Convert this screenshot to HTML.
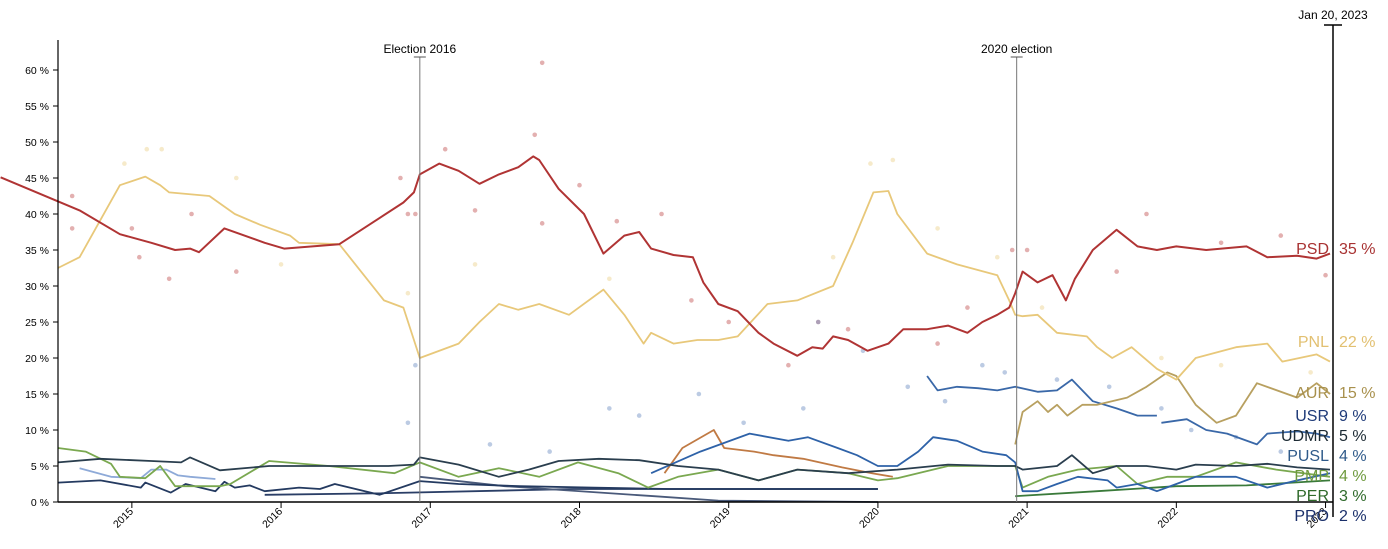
<!DOCTYPE html>
<html><head><meta charset="utf-8"><style>
body{margin:0;background:#fff;font-family:"Liberation Sans",sans-serif}
svg text{font-family:"Liberation Sans",sans-serif}
</style></head><body>
<svg id="c" width="1388" height="544"></svg>
<script>
const yTicks=[0,5,10,15,20,25,30,35,40,45,50,55,60];
const yearTicks=[2015,2016,2017,2018,2019,2020,2021,2022,2023];
const events=[{d:2016.93,label:"Election 2016"},{d:2020.93,label:"2020 election"}];
const psd=[[2014.12,45.1],[2014.65,40.5],[2014.92,37.2],[2015.13,36],[2015.29,35],[2015.39,35.2],[2015.45,34.7],[2015.62,38],[2015.89,36],[2016.02,35.2],[2016.39,35.8],[2016.59,38.5],[2016.82,41.6],[2016.89,43],[2016.93,45.5],[2017.06,47],[2017.19,46],[2017.33,44.2],[2017.46,45.5],[2017.59,46.5],[2017.69,48],[2017.73,47.5],[2017.86,43.5],[2018.03,40],[2018.16,34.5],[2018.30,37],[2018.40,37.5],[2018.48,35.2],[2018.63,34.3],[2018.76,34],[2018.83,30.5],[2018.93,27.5],[2019.06,26.5],[2019.20,23.5],[2019.30,22],[2019.46,20.3],[2019.56,21.5],[2019.63,21.3],[2019.70,23],[2019.80,22.5],[2019.93,21],[2020.07,22],[2020.17,24],[2020.33,24],[2020.47,24.5],[2020.60,23.5],[2020.70,25],[2020.80,26],[2020.88,27],[2020.92,29],[2020.97,32],[2021.07,30.5],[2021.17,31.5],[2021.26,28],[2021.32,31],[2021.44,35],[2021.60,37.8],[2021.74,35.5],[2021.87,35],[2022.00,35.5],[2022.20,35],[2022.47,35.5],[2022.61,34],[2022.81,34.2],[2022.94,33.8],[2023.03,34.5]];
const pnl=[[2014.505,32.5],[2014.65,34],[2014.92,44],[2015.09,45.2],[2015.19,44],[2015.25,43],[2015.52,42.5],[2015.69,40],[2015.86,38.5],[2016.06,37],[2016.12,36],[2016.39,35.8],[2016.69,28],[2016.82,27],[2016.93,20],[2017.19,22],[2017.33,25],[2017.46,27.5],[2017.59,26.7],[2017.73,27.5],[2017.93,26],[2018.16,29.5],[2018.30,26],[2018.43,22],[2018.48,23.5],[2018.63,22],[2018.79,22.5],[2018.93,22.5],[2019.06,23],[2019.26,27.5],[2019.46,28],[2019.70,30],[2019.83,36],[2019.97,43],[2020.07,43.2],[2020.13,40],[2020.33,34.5],[2020.53,33],[2020.80,31.5],[2020.88,28],[2020.92,26],[2020.97,25.8],[2021.07,26],[2021.20,23.5],[2021.40,23],[2021.47,21.5],[2021.57,20],[2021.70,21.5],[2021.87,18.5],[2022.00,17],[2022.13,20],[2022.40,21.5],[2022.61,22],[2022.71,19.5],[2022.94,20.5],[2023.03,19.5]];
const aur=[[2020.92,8],[2020.97,12.5],[2021.07,14],[2021.14,12.5],[2021.20,13.5],[2021.27,12],[2021.37,13.5],[2021.47,13.5],[2021.67,14.5],[2021.80,16],[2021.94,18],[2022.00,17.5],[2022.13,13.5],[2022.27,11],[2022.40,12],[2022.54,16.5],[2022.81,14.5],[2022.94,16.5],[2023.03,15]];
const usr=[[2020.33,17.5],[2020.40,15.5],[2020.53,16],[2020.67,15.8],[2020.80,15.5],[2020.92,16],[2021.07,15.3],[2021.20,15.5],[2021.30,17],[2021.44,14],[2021.60,13],[2021.74,12],[2021.87,12],[null,null],[2021.90,11],[2022.07,11.5],[2022.20,10],[2022.34,9.5],[2022.54,8],[2022.61,9.5],[2022.81,9.8],[2022.94,9.5],[2023.03,9]];
const pusl=[[2018.57,4],[2018.69,7.5],[2018.90,10],[2018.97,7.5],[2019.17,7],[2019.30,6.5],[2019.50,6],[2019.76,4.8],[2019.96,4],[2020.10,3.5]];
const blueLine=[[2018.48,4],[2018.81,7],[2019.14,9.5],[2019.40,8.5],[2019.53,9],[2019.73,7.5],[2019.86,6.5],[2020.00,5],[2020.13,5],[2020.27,7],[2020.37,9],[2020.53,8.5],[2020.70,7],[2020.86,6.5],[2020.92,5.5],[2020.97,1.5],[2021.07,1.5],[2021.20,2.5],[2021.34,3.5],[2021.54,3],[2021.60,2],[2021.74,2.5],[2021.87,1.5],[2022.00,2.5],[2022.13,3.5],[2022.40,3.5],[2022.61,2],[2022.81,3],[2023.03,4]];
const udmr=[[2014.505,5.5],[2014.79,6],[2015.13,5.7],[2015.33,5.5],[2015.39,6.2],[2015.59,4.4],[2015.92,5],[2016.19,5],[2016.46,5],[2016.72,5],[2016.89,5.2],[2016.93,6.2],[2017.19,5.2],[2017.46,3.5],[2017.66,4.5],[2017.86,5.7],[2018.13,6],[2018.40,5.8],[2018.66,5],[2018.93,4.5],[2019.20,3],[2019.46,4.5],[2019.80,4],[2020.13,4.5],[2020.47,5.2],[2020.80,5],[2020.92,5],[2020.97,4.5],[2021.20,5],[2021.30,6.5],[2021.44,4],[2021.60,5],[2021.80,5],[2022.00,4.5],[2022.13,5.2],[2022.40,5],[2022.61,5.3],[2022.81,4.8],[2023.03,4.5]];
const pmp=[[2014.505,7.5],[2014.69,7],[2014.86,5.3],[2014.92,3.5],[2015.09,3.3],[2015.19,5],[2015.29,2.2],[2015.59,2.2],[2015.66,2.5],[2015.92,5.7],[2016.32,5],[2016.76,4],[2016.93,5.5],[2017.19,3.5],[2017.46,4.7],[2017.73,3.5],[2017.99,5.5],[2018.26,4],[2018.46,2],[2018.66,3.5],[2018.93,4.5],[2019.20,3],[2019.46,4.5],[2019.80,4],[2020.00,3],[2020.13,3.3],[2020.47,5],[2020.80,5],[2020.92,5],[2020.97,2],[2021.14,3.5],[2021.34,4.5],[2021.60,5],[2021.74,2.5],[2021.94,3.5],[2022.13,3.5],[2022.40,5.5],[2022.67,4.5],[2023.03,3.5]];
const per=[[2020.92,0.8],[2021.47,1.5],[2022.00,2.2],[2022.47,2.3],[2023.03,3]];
const pro=[[2014.505,2.7],[2014.79,3],[2015.06,2],[2015.09,2.7],[2015.26,1.3],[2015.36,2.5],[2015.56,1.5],[2015.62,2.8],[2015.69,2],[2015.79,2.3],[2015.89,1.5],[2016.12,2],[2016.26,1.8],[2016.36,2.5],[2016.66,1],[2016.93,2.9],[2017.19,2.5],[2017.60,2.2],[2018.10,2],[2018.60,1.8],[2019.10,1.8],[2020.00,1.8]];
const proLow=[[2015.89,1],[2016.62,1.2],[2017.96,1.8],[2020.00,1.8]];
const proDecline=[[2016.93,3.5],[2017.50,2.2],[2018.50,0.8],[2018.93,0.2],[2020.00,0]];
const lightBlue=[[2014.65,4.7],[2014.86,3.5],[2015.06,3.3],[2015.13,4.5],[2015.23,4.5],[2015.31,3.7],[2015.39,3.5],[2015.56,3.2]];
const psdDots=[[2014.60,42.5],[2014.60,38],[2015.00,38],[2015.05,34],[2015.25,31],[2015.40,40],[2015.70,32],[2016.80,45],[2016.85,40],[2016.90,40],[2017.10,49],[2017.30,40.5],[2017.70,51],[2017.75,61],[2017.75,38.7],[2018.00,44],[2018.25,39],[2018.55,40],[2018.75,28],[2019.00,25],[2019.40,19],[2019.60,25],[2019.80,24],[2020.40,22],[2020.60,27],[2020.90,35],[2021.00,35],[2021.60,32],[2021.80,40],[2022.30,36],[2022.70,37],[2023.00,31.5]];
const pnlDots=[[2014.95,47],[2015.10,49],[2015.20,49],[2015.70,45],[2016.00,33],[2016.85,29],[2017.30,33],[2018.20,31],[2019.70,34],[2019.95,47],[2020.10,47.5],[2020.40,38],[2020.80,34],[2021.10,27],[2021.90,20],[2022.30,19],[2022.90,18]];
const usrDots=[[2016.85,11],[2016.90,19],[2017.40,8],[2017.80,7],[2018.20,13],[2018.40,12],[2018.80,15],[2019.10,11],[2019.50,13],[2019.60,25],[2019.90,21],[2020.20,16],[2020.45,14],[2020.70,19],[2020.85,18],[2021.20,17],[2021.55,16],[2021.90,13],[2022.10,10],[2022.40,9],[2022.70,7]];
const labels=[{n:"PSD",v:"35 %",y:248,c:"#a83232"},{n:"PNL",v:"22 %",y:341,c:"#e2c071"},{n:"AUR",v:"15 %",y:392,c:"#a8904c"},{n:"USR",v:"9 %",y:415,c:"#1e3a78"},{n:"UDMR",v:"5 %",y:435,c:"#1c2a33"},{n:"PUSL",v:"4 %",y:455,c:"#2f5a8a"},{n:"PMP",v:"4 %",y:475,c:"#6e9a3e"},{n:"PER",v:"3 %",y:495,c:"#2f6a2a"},{n:"PRO",v:"2 %",y:515,c:"#1a2f6a"}];

const svg=document.getElementById('c');const NS="http://www.w3.org/2000/svg";
const X0=58,X1=1333,D0=2014.505,D1=2023.05,Y0=502,PPU=7.2;
const xs=d=>X0+(d-D0)/(D1-D0)*(X1-X0);const ys=v=>Y0-v*PPU;
function el(t,a,p){const e=document.createElementNS(NS,t);for(const k in a)e.setAttribute(k,a[k]);(p||svg).appendChild(e);return e;}
function dots(arr,col,name){arr.forEach(p=>{const c=el('circle',{cx:xs(p[0]),cy:ys(p[1]),r:2.3,fill:col,opacity:0.45});

});}
dots(psdDots,'#c05050','psd-poll-dot');dots(pnlDots,'#ecd08a','pnl-poll-dot');dots(usrDots,'#6a8cc0','usr-poll-dot');
function line(arr,col,name,w){let d='',m=true;arr.forEach(p=>{if(p[0]===null){m=true;return;}d+=(m?'M':'L')+xs(p[0]).toFixed(1)+','+ys(p[1]).toFixed(1);m=false;});
const e=el('path',{d:d,fill:'none',stroke:col,'stroke-width':w||2,'stroke-linejoin':'round'});

}
line(lightBlue,'#8eaad8','light-blue-line',1.8);
line(proLow,'#2a3e66','pro-low-line',1.8);line(proDecline,'#4a5a7a','pro-decline-line',1.8);
line(pro,'#243a60','pro-line',1.8);
line(pusl,'#c07a44','pusl-orange-line',1.8);
line(per,'#3a7a3a','per-line',1.8);
line(pmp,'#7aa850','pmp-line',1.8);
line(blueLine,'#2e62a8','pusl-line',1.8);
line(udmr,'#2a3e4e','udmr-line',1.8);
line(usr,'#3a68a8','usr-line',1.8);
line(aur,'#b8a060','aur-line',1.8);
line(pnl,'#e8c87a','pnl-line',1.8);
line(psd,'#b03434','psd-line',2);
// axes
let a=el('line',{x1:X0,y1:40,x2:X0,y2:Y0,stroke:'#000','stroke-width':1.2});
a=el('line',{x1:X0,y1:Y0,x2:X1,y2:Y0,stroke:'#000','stroke-width':1.5});
yTicks.forEach(v=>{el('line',{x1:X0-5,y1:ys(v),x2:X0,y2:ys(v),stroke:'#000'});const t=el('text',{x:X0-9,y:ys(v)+4,'text-anchor':'end','font-size':10.5,fill:'#000'});t.textContent=v+' %';

});
yearTicks.forEach(v=>{const x=xs(v);el('line',{x1:x,y1:Y0,x2:x,y2:Y0+6,stroke:'#000'});const t=el('text',{x:x+2,y:Y0+10,'text-anchor':'end','font-size':10.5,transform:`rotate(-45 ${x+2} ${Y0+10})`});t.textContent=v;

});
events.forEach(ev=>{const x=xs(ev.d);el('line',{x1:x,y1:57,x2:x,y2:Y0,stroke:'#777','stroke-width':1});el('line',{x1:x-6,y1:57,x2:x+6,y2:57,stroke:'#555'});
const t=el('text',{x:x,y:53,'text-anchor':'middle','font-size':12});t.textContent=ev.label;

});
a=el('line',{x1:X1,y1:25,x2:X1,y2:Y0+15,stroke:'#000','stroke-width':1.5});
el('line',{x1:X1-9,y1:25,x2:X1+9,y2:25,stroke:'#000','stroke-width':1.5});
let t=el('text',{x:X1,y:19,'text-anchor':'middle','font-size':12});t.textContent='Jan 20, 2023';
labels.forEach(l=>{const n=el('text',{x:X1-4,y:l.y+6,'text-anchor':'end','font-size':16,fill:l.c});n.textContent=l.n;


const v=el('text',{x:X1+6,y:l.y+6,'font-size':16,fill:l.c});v.textContent=l.v;

});
</script>
</body></html>
